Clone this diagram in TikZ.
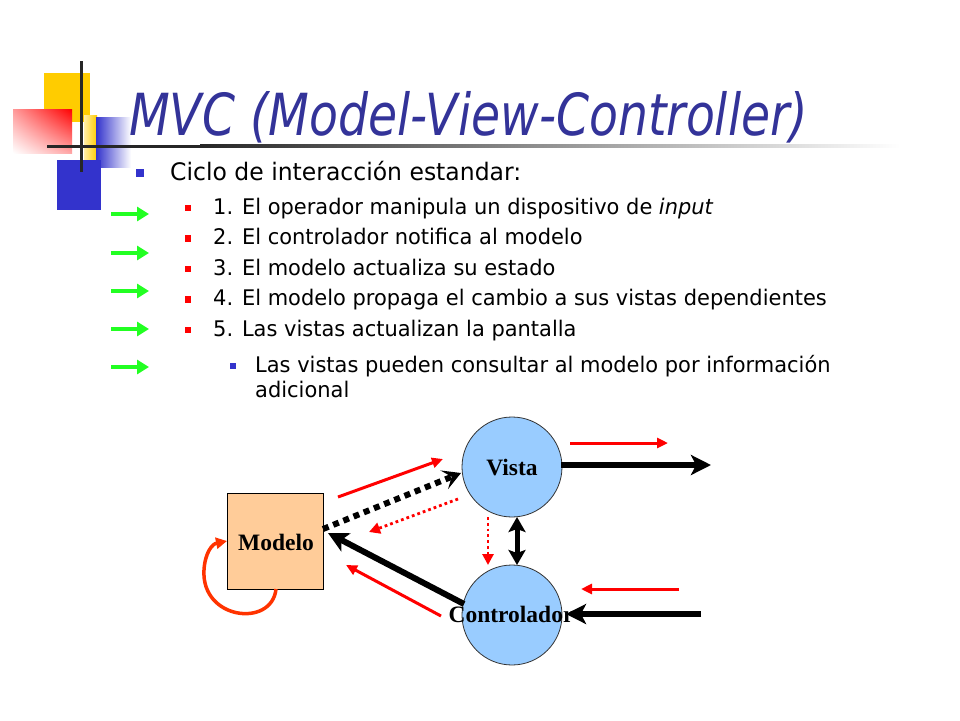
\documentclass[tikz,border=0pt]{standalone}
\usepackage{fontspec}
\usetikzlibrary{arrows.meta,shadings}
\newfontfamily\tah[FakeStretch=0.975]{DejaVu Sans}
\newfontfamily\tahtitle[FakeStretch=0.815]{DejaVu Sans}
\newfontfamily\tnr{Liberation Serif}
\definecolor{tblue}{HTML}{333399}
\definecolor{lblue}{HTML}{3333CC}
\definecolor{myyellow}{HTML}{FFCC00}
\definecolor{peach}{HTML}{FFCC99}
\definecolor{sky}{HTML}{99CCFF}
\definecolor{loopc}{HTML}{FF3300}
\definecolor{gr}{HTML}{22FF22}
\tikzset{
  bodytxt/.style={anchor=base west, inner sep=0pt, font=\tah\fontsize{21.5}{25}\selectfont},
  bulletsq/.style={fill=#1, minimum size=6.5pt, inner sep=0pt},
  garrow/.style={gr, line width=4.5pt, -{Triangle[length=12pt,width=14pt]}},
  rarrow/.style={red, line width=3pt, -{Triangle[length=11pt,width=10pt]}},
  rdot/.style={red, line width=2.8pt, dash pattern=on 2.8pt off 3pt, -{Triangle[length=11pt,width=11pt]}},
  barrow/.style={black, line width=6pt, -{Stealth[length=20pt,width=20pt,inset=5pt]}},
  lbl/.style={font=\tnr\bfseries\fontsize{23.5}{26}\selectfont, inner sep=0pt}
}
\begin{document}
\begin{tikzpicture}[x=1pt,y=-1pt]
\useasboundingbox (0,0) rectangle (960,720);
\fill[white] (0,0) rectangle (960,720);
% logo
\fill[myyellow] (44,73) rectangle (90,122);
\shade[left color=myyellow!35!white, right color=myyellow] (84,115) rectangle (97,160);
\shade[upper right=red, lower left=white, upper left=red!40!white, lower right=red!35!white] (13,109) rectangle (72,153);
\shade[left color=lblue, right color=white] (96,117) rectangle (131,167);
\fill[lblue] (57,160) rectangle (101,210);
\draw[line width=3pt, black!85] (81,61) -- (81,172);
\shade[left color=black!85, right color=white] (200,144.5) rectangle (900,147.5);
\fill[black!85] (47,144.5) rectangle (200.5,147.5);
% title
\node[anchor=base west, inner sep=0pt, text=tblue, font=\tahtitle\itshape\fontsize{58}{60}\selectfont] (title) at (129,135) {MVC (Model-View-Controller)};
% bullets
\node[bulletsq=lblue, minimum size=7.5pt] (b0) at (140,173) {};
\node[bodytxt, font=\tah\fontsize{24.1}{28}\selectfont] (t0) at (170,180) {Ciclo de interacción estandar:};
\node[bulletsq=red] (b1) at (188,208) {};
\node[bodytxt] (t1) at (213,214) {1. El operador manipula un dispositivo de \textit{input}};
\node[bulletsq=red] (b2) at (188,238.5) {};
\node[bodytxt] (t2) at (213,244.5) {2. El controlador notifica al modelo};
\node[bulletsq=red] (b3) at (188,269) {};
\node[bodytxt] (t3) at (213,275) {3. El modelo actualiza su estado};
\node[bulletsq=red] (b4) at (188,299.5) {};
\node[bodytxt] (t4) at (213,305.5) {4. El modelo propaga el cambio a sus vistas dependientes};
\node[bulletsq=red] (b5) at (188,330) {};
\node[bodytxt] (t5) at (213,336) {5. Las vistas actualizan la pantalla};
\node[bulletsq=lblue] (b6) at (233,366) {};
\node[bodytxt] (t6) at (255,372) {Las vistas pueden consultar al modelo por información};
\node[bodytxt] (t7) at (255,397) {adicional};
% green arrows
\foreach \i/\yy in {1/214,2/253,3/291,4/329,5/367}{
  \coordinate (gs\i) at (111,\yy);
  \coordinate (ge\i) at (149,\yy);
  \draw[garrow] (gs\i) -- (ge\i);
}
% diagram nodes
\node[draw=black, line width=0.8pt, fill=peach, minimum width=96pt, minimum height=96pt, inner sep=0pt] (model) at (275,541) {};
\node[lbl] (modeltxt) at (276,542) {Modelo};
\node[circle, draw=black!80, line width=0.8pt, fill=sky, minimum size=100pt, inner sep=0pt] (vista) at (512,467) {};
\node[lbl] (vistatxt) at (512,468) {Vista};
\node[circle, draw=black!80, line width=0.8pt, fill=sky, minimum size=100pt, inner sep=0pt] (ctrl) at (512,615) {};
\node[lbl] (ctrltxt) at (511,614) {Controlador};
% self loop
\coordinate (l1) at (276,589);
\coordinate (l2) at (227,541);
\draw[loopc, line width=3.5pt, -{Triangle[length=11pt,width=11pt]}] (l1) .. controls (272,628) and (201,620) .. (204,570) .. controls (205,553) and (212,544) .. (l2);
% model -> vista dotted black
\coordinate (mv1) at (323,529);
\coordinate (mv2) at (461,473);
\draw[black, line width=6pt, dash pattern=on 6pt off 5pt, -{Stealth[length=18pt,width=20pt,inset=8pt]}] (mv1) -- (mv2);
% red arrows
\coordinate (r1s) at (338,497); \coordinate (r1e) at (443,459);
\draw[rarrow] (r1s) -- (r1e);
\coordinate (r2s) at (458,499); \coordinate (r2e) at (369,532);
\draw[rdot] (r2s) -- (r2e);
\coordinate (r3s) at (488,517); \coordinate (r3e) at (488,565);
\draw[rdot] (r3s) -- (r3e);
\coordinate (r4s) at (441,616); \coordinate (r4e) at (346,565);
\draw[rarrow] (r4s) -- (r4e);
\coordinate (r5s) at (570,443); \coordinate (r5e) at (668,443);
\draw[rarrow] (r5s) -- (r5e);
\coordinate (r6s) at (679,589); \coordinate (r6e) at (581,589);
\draw[rarrow] (r6s) -- (r6e);
% black arrows
\coordinate (vc1) at (517,517);
\coordinate (vc2) at (517,565);
\draw[black, line width=5pt, {Stealth[length=15pt,width=17pt,inset=3pt]}-{Stealth[length=15pt,width=17pt,inset=3pt]}] (vc1) -- (vc2);
\coordinate (cm) at (464,604);
\coordinate (mtip) at (328,533);
\draw[barrow] (cm) -- (mtip);
\coordinate (vs) at (561,465);
\coordinate (vo) at (711,465);
\draw[barrow] (vs) -- (vo);
\coordinate (ci) at (701,614);
\coordinate (ce) at (566,614);
\draw[barrow] (ci) -- (ce);
\end{tikzpicture}
\end{document}
